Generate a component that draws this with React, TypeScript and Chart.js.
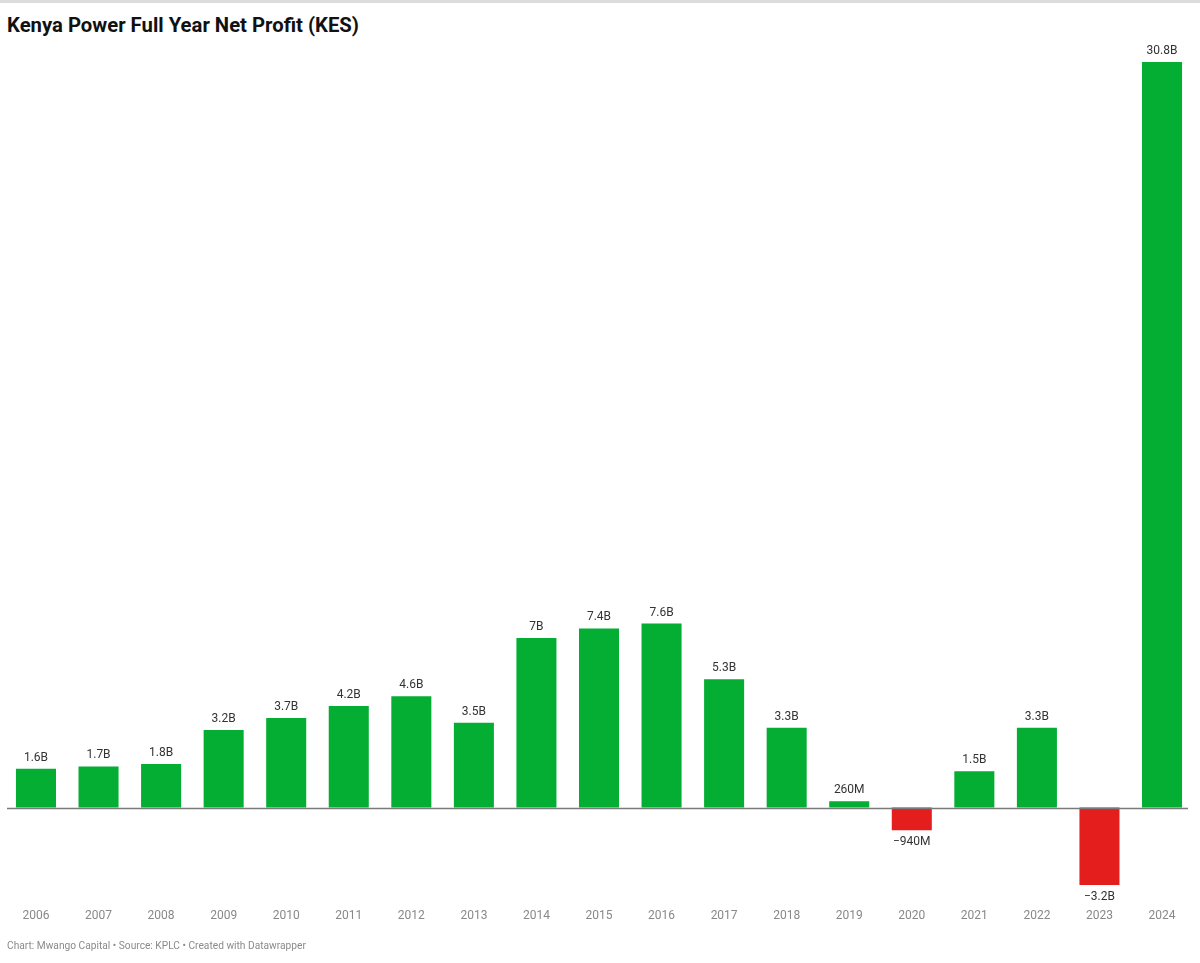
import React, { useEffect, useRef } from "react";
import { Chart, registerables } from "chart.js";

Chart.register(...registerables);

const years = ["2006","2007","2008","2009","2010","2011","2012","2013","2014","2015","2016","2017","2018","2019","2020","2021","2022","2023","2024"];
// Net profit in billions KES
const profits = [1.6, 1.7, 1.8, 3.2, 3.7, 4.2, 4.6, 3.5, 7.0, 7.4, 7.6, 5.3, 3.3, 0.26, -0.94, 1.5, 3.3, -3.2, 30.8];

const GREEN = "#03ae32";
const RED = "#e41d1d";
const FONT = "Roboto, 'Noto Sans', sans-serif";

function fmt(v: number): string {
  const sign = v < 0 ? "\u2212" : "";
  const a = Math.abs(v);
  if (a < 1) return sign + Math.round(a * 1000) + "M";
  return sign + String(Math.round(a * 10) / 10) + "B";
}

const labelPlugin = {
  id: "valueLabels",
  afterDatasetsDraw(chart: any) {
    const ctx = chart.ctx;
    const meta = chart.getDatasetMeta(0);
    const data = chart.data.datasets[0].data as number[];
    ctx.save();
    ctx.font = `12px ${FONT}`;
    ctx.fillStyle = "#333333";
    ctx.textAlign = "center";
    ctx.textBaseline = "middle";
    meta.data.forEach((bar: any, i: number) => {
      const v = data[i];
      const y = v >= 0 ? bar.y - 11 : bar.y + 12;
      ctx.fillText(fmt(v), bar.x, y);
    });
    ctx.restore();
  },
};

const zeroLinePlugin = {
  id: "zeroLine",
  afterDatasetsDraw(chart: any) {
    const ctx = chart.ctx;
    const y = Math.round(chart.scales.y.getPixelForValue(0)) + 0.5;
    ctx.save();
    ctx.strokeStyle = "#7a7a7a";
    ctx.lineWidth = 1.5;
    ctx.beginPath();
    ctx.moveTo(7, y);
    ctx.lineTo(1188, y);
    ctx.stroke();
    ctx.restore();
  },
};

export default function App() {
  const ref = useRef<HTMLCanvasElement | null>(null);
  useEffect(() => {
    if (!ref.current) return;
    const chart = new Chart(ref.current, {
      type: "bar",
      data: {
        labels: years,
        datasets: [
          {
            data: profits,
            backgroundColor: profits.map((v) => (v < 0 ? RED : GREEN)),
            barPercentage: 0.64,
            categoryPercentage: 1,
            borderWidth: 0,
          },
        ],
      },
      options: {
        animation: false,
        responsive: false,
        maintainAspectRatio: false,
        layout: { padding: { left: 4.7, right: 6.7, top: 62, bottom: 0 } },
        plugins: { legend: { display: false }, tooltip: { enabled: false }, title: { display: false } },
        scales: {
          x: {
            grid: { display: false, drawTicks: false },
            border: { display: false },
            ticks: { color: "#888888", font: { family: FONT, size: 12 }, padding: 24, maxRotation: 0, autoSkip: false },
            afterFit: (s: any) => {
              s.height = 78;
              s.paddingLeft = 0;
              s.paddingRight = 0;
            },
          },
          y: {
            display: false,
            min: -3.2,
            max: 30.8,
          },
        },
      },
      plugins: [labelPlugin, zeroLinePlugin],
    });
    return () => chart.destroy();
  }, []);

  return (
    <div style={{ position: "absolute", left: 0, top: 0, width: 1200, height: 963, background: "#fff", fontFamily: FONT }}>
      <div style={{ position: "absolute", left: 0, top: 0, width: 1200, height: 3, background: "#dcdcdc" }} />
      <div style={{ position: "absolute", left: 7, top: 13, fontSize: 20.3, fontWeight: 700, color: "#111", whiteSpace: "nowrap" }}>
        Kenya Power Full Year Net Profit (KES)
      </div>
      <canvas ref={ref} width={1200} height={963} style={{ position: "absolute", left: 0, top: 0, width: 1200, height: 963 }} />
      <div style={{ position: "absolute", left: 7, top: 940, fontSize: 10.2, color: "#8a8a8a", whiteSpace: "nowrap" }}>
        Chart: Mwango Capital • Source: KPLC • Created with Datawrapper
      </div>
    </div>
  );
}
